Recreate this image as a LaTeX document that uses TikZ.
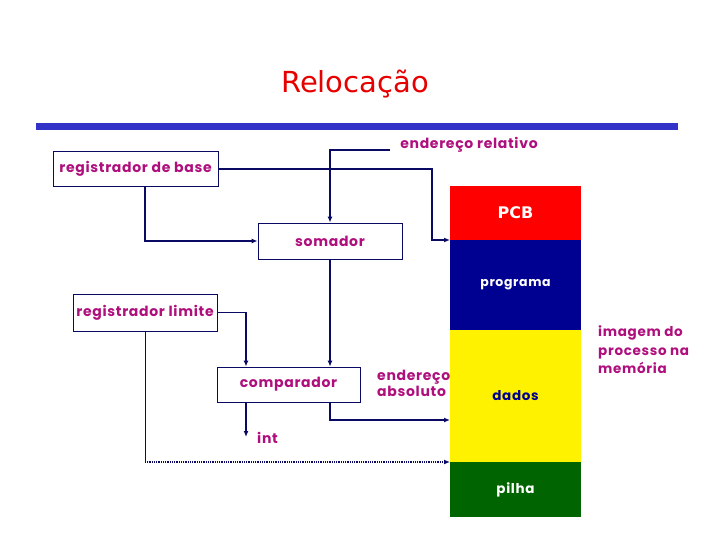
\documentclass[tikz,border=0pt]{standalone}
\usepackage{fontspec}
\setmainfont{DejaVu Sans}
\newfontfamily\lblfont{Poppins}[LetterSpace=5]
\usetikzlibrary{arrows.meta}
\definecolor{mag}{RGB}{175,15,125}
\definecolor{ln}{RGB}{10,10,100}
\definecolor{navyb}{RGB}{0,0,145}
\definecolor{grn}{RGB}{0,100,0}
\definecolor{barb}{RGB}{50,50,200}
\definecolor{ttl}{RGB}{230,0,0}
\begin{document}
\begin{tikzpicture}[x=1pt,y=-1pt,
  lbl/.style={font=\lblfont\bfseries\fontsize{14}{16}\selectfont, text=mag, inner sep=0pt},
  box/.style={draw=ln, line width=0.8pt, fill=white, inner sep=0pt},
  mem/.style={draw=none, inner sep=0pt, outer sep=0pt, minimum width=131pt},
  wire/.style={draw=ln, line width=1.2pt},
  arr/.style={wire, -{Latex[length=6pt,width=5pt]}}]
\useasboundingbox (0,0) rectangle (720,540);
% title and bar
\node[font=\fontsize{29}{33}\selectfont, text=ttl] (title) at (355,84) {Relocação};
\fill[barb] (36,123) rectangle (678,130);
% memory column
\node[mem, fill=red, minimum height=54pt, font=\bfseries\fontsize{16}{19}\selectfont, text=white] (pcb) at (515.5,213) {PCB};
\node[mem, fill=navyb, minimum height=90pt, font=\lblfont\bfseries\fontsize{12.5}{14}\selectfont, text=white] (prog) at (515.5,285) {programa};
\node[mem, fill=yellow, minimum height=132pt, font=\lblfont\bfseries\fontsize{13.5}{15}\selectfont, text=navyb] (dados) at (515.5,396) {dados};
\node[mem, fill=grn, minimum height=55pt, font=\lblfont\bfseries\fontsize{13.5}{15}\selectfont, text=white] (pilha) at (515.5,489.5) {pilha};
% boxes
\node[box, lbl, minimum width=165pt, minimum height=35pt] (base) at (135.5,169) {registrador de base};
\node[box, lbl, minimum width=144pt, minimum height=36pt] (soma) at (330,241) {somador};
\node[box, lbl, minimum width=144pt, minimum height=37pt] (lim) at (145,312.5) {registrador limite};
\node[box, lbl, minimum width=143pt, minimum height=35pt] (comp) at (288.5,384.5) {comparador};
% labels
\node[lbl] (erel) at (469,145) {endereço relativo};
\node[lbl, anchor=west, align=left] (eabs) at (377,383) {endereço\\absoluto};
\node[lbl, anchor=west, align=left, font=\lblfont\bfseries\fontsize{13.5}{18.5}\selectfont] (img) at (598,350) {imagem do\\processo na\\memória};
\node[lbl, anchor=west] (intl) at (257,438) {int};
% coordinates
\coordinate (er) at (390,150);
\coordinate (c1) at (432,240);
\coordinate (c2) at (450,420);
\coordinate (iend) at (246,437);
\coordinate (c3) at (145,462);
% wires
\draw[arr] (er) -| (soma.north);
\draw[arr] (base.east) -| (c1) -- (pcb.south west);
\draw[arr] ([xshift=9.5pt]base.south) |- (soma.west);
\draw[arr] (soma.south) -- (soma.south |- comp.north);
\draw[arr] (lim.east) -| ([xshift=-42.5pt]comp.north);
\draw[arr] ([xshift=-42.5pt]comp.south) -- (iend);
\draw[arr] ([xshift=41.5pt]comp.south) |- (c2);
\draw[wire, line width=0.8pt] (lim.south) -- (c3);
\draw[arr, line width=1.3pt, dash pattern=on 0.9pt off 0.9pt] (c3) -- (dados.south west);
\end{tikzpicture}
\end{document}
